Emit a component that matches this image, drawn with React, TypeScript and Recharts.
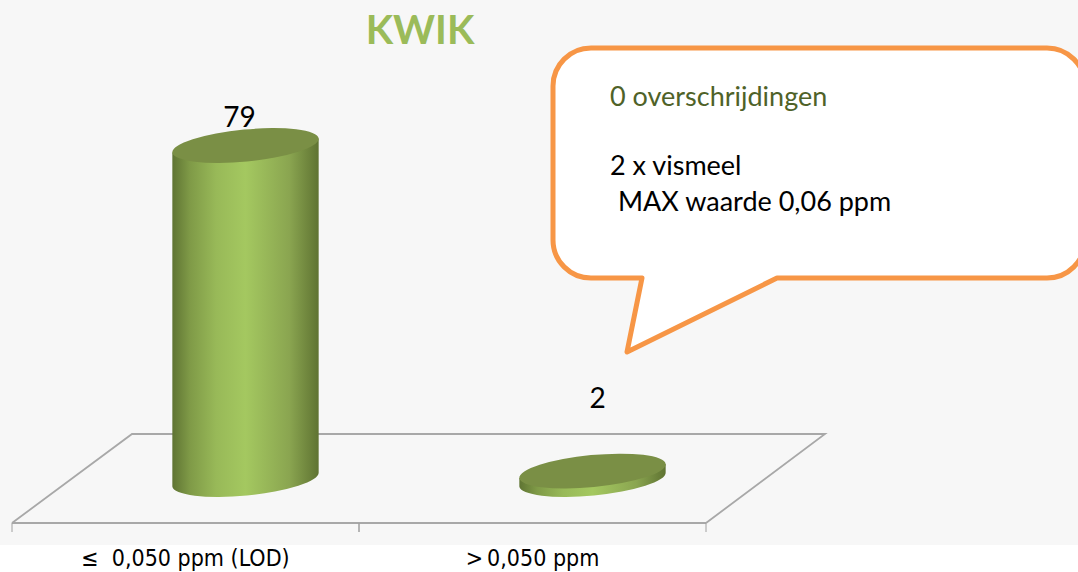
import { BarChart, Bar, XAxis, YAxis, LabelList } from "recharts";

const categories = ["≤\u00a0\u00a00,050 ppm (LOD)", ">\u20090,050 ppm"];
const sampleCounts = [79, 2];

const chartData = categories.map((name, i) => ({ name, count: sampleCounts[i] }));

// the bars stand further back on the floor than the axis at the front
const DEPTH_X = 60;
const DEPTH_Y = -43.5;
const TILT = 5.5;
const RY = 16;
const BAND = 347;

const LABEL_SHIFT = [
  { dx: -6, dy: -19 },
  { dx: 5, dy: -63 },
];

const Cylinder = (props: any) => {
  const { x, y, width, height } = props;
  const rx = width / 2;
  const cx = x + rx + DEPTH_X;
  const top = y + DEPTH_Y;
  const bottom = y + height + DEPTH_Y;
  const a = (TILT * Math.PI) / 180;
  const ex = rx * Math.cos(a);
  const ey = rx * Math.sin(a);
  const body = `M${cx - ex} ${top + ey} L${cx - ex} ${bottom + ey} A${rx} ${RY} ${-TILT} 0 0 ${cx + ex} ${bottom - ey} L${cx + ex} ${top - ey} Z`;
  return (
    <g>
      <path d={body} fill="url(#cylinderSide)" />
      <ellipse
        cx={cx}
        cy={top}
        rx={rx}
        ry={RY}
        fill="#7a8f45"
        transform={`rotate(${-TILT} ${cx} ${top})`}
      />
    </g>
  );
};

const AxisTick = (props: any) => {
  const { x, y, payload } = props;
  // y comes in below the axis line, by the default tick size and margin
  const axisY = y - 8;
  return (
    <g>
      <line x1={x - BAND / 2} x2={x - BAND / 2} y1={axisY} y2={axisY + 9} stroke="#a0a0a0" strokeWidth={1} />
      <line x1={x + BAND / 2} x2={x + BAND / 2} y1={axisY} y2={axisY + 9} stroke="#a0a0a0" strokeWidth={1} />
      <text
        x={x}
        y={axisY + 43}
        textAnchor="middle"
        fontFamily="DejaVu Sans"
        fontSize={23}
        fill="#000"
        style={{ fontStretch: "condensed" }}
      >
        {payload.value}
      </text>
    </g>
  );
};

const ValueLabel = (props: any) => {
  const { x, y, width, value, index } = props;
  const shift = LABEL_SHIFT[index];
  return (
    <text
      x={x + width / 2 + DEPTH_X + shift.dx}
      y={y + DEPTH_Y + shift.dy}
      textAnchor="middle"
      fontFamily="Lato"
      fontSize={28}
      fill="#000"
    >
      {value}
    </text>
  );
};

const calloutPath =
  "M591 48 L1047 48 A38 38 0 0 1 1085 86 L1085 240 A38 38 0 0 1 1047 278 L777 278 L627 352 L642 278 L591 278 A38 38 0 0 1 553 240 L553 86 A38 38 0 0 1 591 48 Z";

export default function App() {
  return (
    <div style={{ position: "absolute", left: 0, top: 0, width: 1078, height: 572, background: "#fff", overflow: "hidden" }}>
      <div style={{ position: "absolute", left: 0, top: 0, width: 1078, height: 545, background: "#f7f7f7" }} />
      <div style={{ position: "absolute", left: 0, top: 0 }}>
        <BarChart
          width={1078}
          height={572}
          data={chartData}
          margin={{ top: 189, right: 372, bottom: 0, left: 12 }}
        >
          <defs>
            <linearGradient id="cylinderSide" x1="0" y1="0" x2="1" y2="0">
              <stop offset="0%" stopColor="#5f7433" />
              <stop offset="12%" stopColor="#7f9a47" />
              <stop offset="30%" stopColor="#98b958" />
              <stop offset="50%" stopColor="#a4c860" />
              <stop offset="80%" stopColor="#8aa550" />
              <stop offset="100%" stopColor="#5f7332" />
            </linearGradient>
          </defs>
          <polyline points="12,523 132,434 825,434 706,523" fill="none" stroke="#a8a8a8" strokeWidth={1.8} />
          <XAxis
            dataKey="name"
            height={49}
            axisLine={{ stroke: "#a8a8a8", strokeWidth: 1.8 }}
            tickLine={false}
            interval={0}
            tick={<AxisTick />}
          />
          <YAxis hide domain={[0, 79]} />
          <Bar dataKey="count" barSize={147} isAnimationActive={false} shape={<Cylinder />}>
            <LabelList dataKey="count" content={<ValueLabel />} />
          </Bar>
          <text x={420} y={44} textAnchor="middle" fontFamily="Lato" fontWeight={700} fontSize={40} fill="#9bbb59">
            KWIK
          </text>
          <path d={calloutPath} fill="#fff" stroke="#f79646" strokeWidth={5} strokeLinejoin="round" />
          <text x={610} y={106} fontFamily="Lato" fontSize={27} fill="#4f6228">
            0 overschrijdingen
          </text>
          <text x={610} y={175} fontFamily="Lato" fontSize={27} fill="#000">
            2 x vismeel
          </text>
          <text x={618} y={211} fontFamily="Lato" fontSize={27} fill="#000">
            MAX waarde 0,06 ppm
          </text>
        </BarChart>
      </div>
    </div>
  );
}
